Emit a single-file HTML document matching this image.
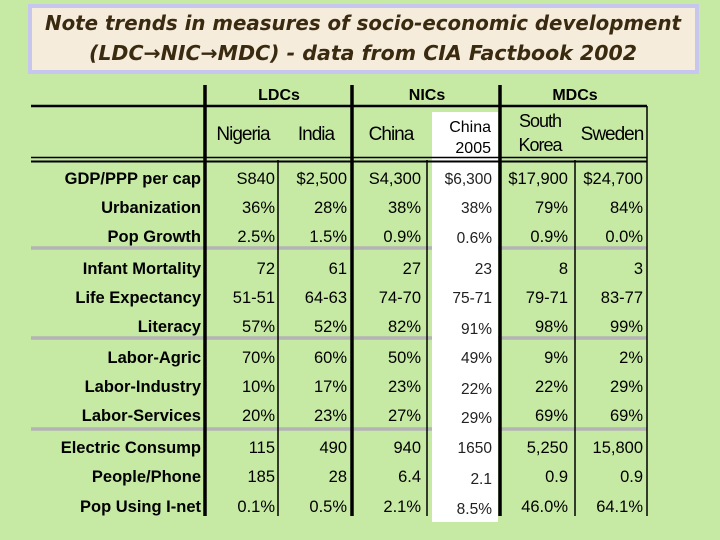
<!DOCTYPE html>
<html><head><meta charset="utf-8"><style>
html,body{margin:0;padding:0;background:#c6e9a4;}
svg{display:block;}
</style></head><body>
<svg width="720" height="540" viewBox="0 0 720 540" xmlns="http://www.w3.org/2000/svg">
<rect x="0" y="0" width="720" height="540" fill="#c6e9a4"/>
<rect x="30" y="6" width="667" height="66" fill="#f5ecdc" stroke="#c7c6ee" stroke-width="4"/>
<text x="363" y="30" text-anchor="middle" font-family="'DejaVu Sans',sans-serif" font-style="italic" font-weight="bold" font-size="20" fill="#3a2a10" textLength="636" lengthAdjust="spacingAndGlyphs">Note trends in measures of socio-economic development</text>
<text x="363" y="60" text-anchor="middle" font-family="'DejaVu Sans',sans-serif" font-style="italic" font-weight="bold" font-size="20" fill="#3a2a10" textLength="548" lengthAdjust="spacingAndGlyphs">(LDC→NIC→MDC) - data from CIA Factbook 2002</text>
<rect x="432" y="112" width="66" height="410" fill="#ffffff"/>
<g id="grid"></g>
<g id="cells"></g>
</svg>
<script>
const rowLabels = ["GDP/PPP per cap","Urbanization","Pop Growth","Infant Mortality","Life Expectancy","Literacy","Labor-Agric","Labor-Industry","Labor-Services","Electric Consump","People/Phone","Pop Using I-net"];
const countries = ["Nigeria","India","China","China 2005","South Korea","Sweden"];
const nigeria = ["S840","36%","2.5%","72","51-51","57%","70%","10%","20%","115","185","0.1%"];
const india = ["$2,500","28%","1.5%","61","64-63","52%","60%","17%","23%","490","28","0.5%"];
const china = ["S4,300","38%","0.9%","27","74-70","82%","50%","23%","27%","940","6.4","2.1%"];
const china2005 = ["$6,300","38%","0.6%","23","75-71","91%","49%","22%","29%","1650","2.1","8.5%"];
const southKorea = ["$17,900","79%","0.9%","8","79-71","98%","9%","22%","69%","5,250","0.9","46.0%"];
const sweden = ["$24,700","84%","0.0%","3","83-77","99%","2%","29%","69%","15,800","0.9","64.1%"];
const columns = [nigeria, india, china, china2005, southKorea, sweden];

const NS = "http://www.w3.org/2000/svg";
const grid = document.getElementById("grid");
const cells = document.getElementById("cells");
function mk(tag, attrs, parent){ const e=document.createElementNS(NS,tag); for(const k in attrs) e.setAttribute(k,attrs[k]); parent.appendChild(e); return e; }

const rowY = [178,207,236,268,297,326,357,386,415,447,476,506];
const colRight = [275,347,421,492,568,643];
const c5Offset = [0,0,1,0,0,2,0,2,2,0,2,2];

let l;
l = mk("line",{x1:31,y1:106,x2:647,y2:106,stroke:"#000","stroke-width":2.5},grid);


l = mk("line",{x1:31,y1:157.5,x2:647,y2:157.5,stroke:"#000","stroke-width":1.5},grid);


l = mk("line",{x1:31,y1:161.5,x2:647,y2:161.5,stroke:"#000","stroke-width":2},grid);


[248,338,429].forEach((y,i)=>{
  const a = mk("line",{x1:31,y1:y,x2:432,y2:y,stroke:"#b4b4b4","stroke-width":3.5},grid);
  
  
  const b = mk("line",{x1:498,y1:y,x2:647,y2:y,stroke:"#b4b4b4","stroke-width":3.5},grid);
  
  
});
[[205,85,3.5],[352,85,3.5],[500,85,3.5]].forEach(v=>{
  const a = mk("line",{x1:v[0],y1:v[1],x2:v[0],y2:516,stroke:"#000","stroke-width":v[2]},grid);
  
  
});
[278,427,575,647].forEach(x=>{
  const a = mk("line",{x1:x,y1:160,x2:x,y2:516,stroke:"#000","stroke-width":1.5},grid);
  
  
});
const rb = mk("line",{x1:647,y1:106,x2:647,y2:160,stroke:"#000","stroke-width":1.5},grid);



const groups = [["LDCs",279],["NICs",427],["MDCs",575]];
groups.forEach(g=>{
  const t = mk("text",{x:g[1],y:100,"text-anchor":"middle","font-family":"'Liberation Sans',sans-serif","font-weight":"bold","font-size":16,fill:"#000"},cells);
  t.textContent = g[0];
  
  
});
function hdr(txt,x,y,size,anchor,name,ls){
  const t = mk("text",{x:x,y:y,"text-anchor":anchor,"font-family":"'Liberation Sans',sans-serif","font-size":size,fill:"#000","letter-spacing":ls},cells);
  t.textContent = txt;
  
  
}
hdr(countries[0],243,140,19,"middle","header-nigeria","-1");
hdr(countries[1],316,140,19,"middle","header-india","-1");
hdr("China",391,140,19,"middle","header-china","-1");
hdr("China",491,132,16,"end","header-china-2005","0");
hdr("2005",491,153,16,"end","header-china-2005-year","0");
hdr("South",540,127,18,"middle","header-south-korea","-1");
hdr("Korea",540,151,18,"middle","header-south-korea-line2","-1");
hdr(countries[5],612,140,19,"middle","header-sweden","-1");

rowLabels.forEach((lab,r)=>{
  const t = mk("text",{x:201,y:rowY[r]+6,"text-anchor":"end","font-family":"'Liberation Sans',sans-serif","font-weight":"bold","font-size":16.5,fill:"#000"},cells);
  t.textContent = lab;
  
  
  columns.forEach((col,c)=>{
    const is05 = c===3;
    const v = mk("text",{x:colRight[c],y:rowY[r]+6+(is05?c5Offset[r]:0),"text-anchor":"end","font-family":"'Liberation Sans',sans-serif","font-size":is05?15.5:16.5,fill:is05?"#222":"#000"},cells);
    v.textContent = col[r];
    
    
  });
});
</script>
</body></html>
